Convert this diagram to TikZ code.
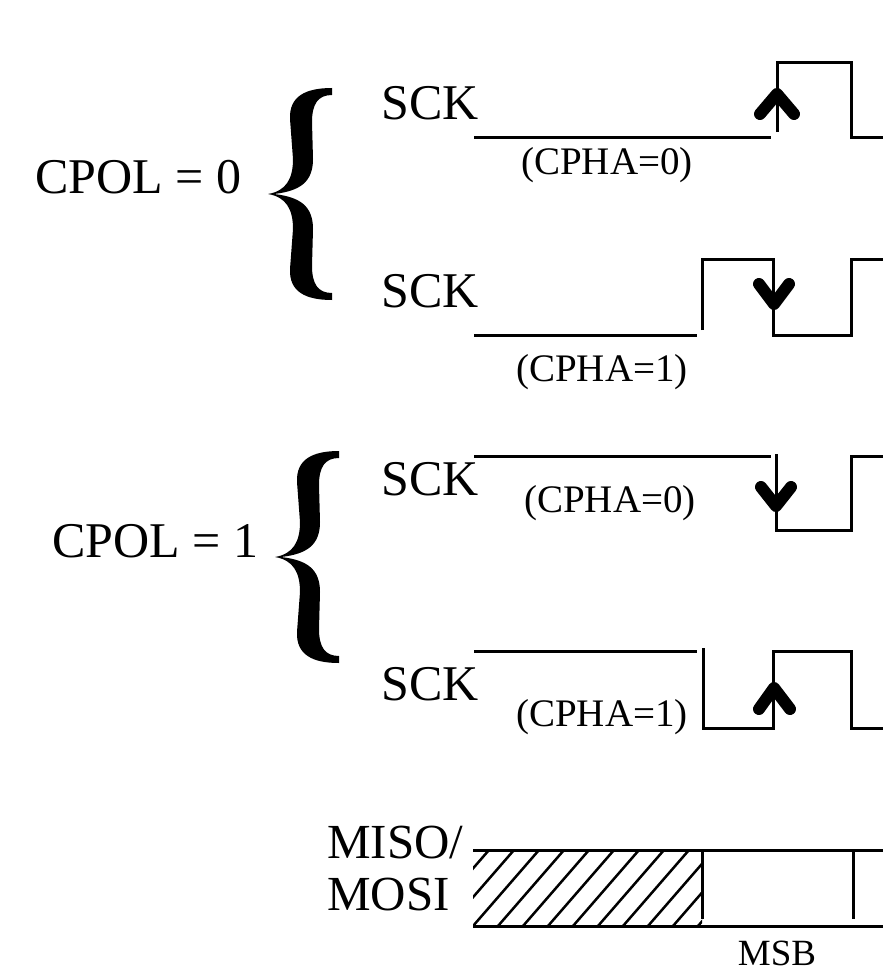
\documentclass[tikz,border=0pt]{standalone}
\usepackage{fontspec}
\setmainfont{Liberation Serif}
\begin{document}
\begin{tikzpicture}[x=1pt, y=-1pt,
		wave/.style={line width=3pt},
		edgemark/.style={line width=12pt, line cap=round, line join=round},
		hatchline/.style={line width=2.5pt},
		bigtext/.style={font=\fontsize{50}{50}\selectfont, inner sep=0pt, anchor=base west},
		smalltext/.style={font=\fontsize{39}{39}\selectfont, inner sep=0pt, anchor=base west},
		curly/.pic={
			\fill (0,0) .. controls (18,-3) and (25,-15) .. (25,-35) -- (22,-75)
			.. controls (21,-98) and (38,-106) .. (64,-106) -- (64,-99)
			.. controls (50,-99) and (44,-90) .. (44,-72) -- (45,-35)
			.. controls (45,-12) and (32,-3) .. (6,0)
			.. controls (32,3) and (45,12) .. (45,35) -- (44,72)
			.. controls (44,90) and (50,99) .. (64,99) -- (64,106)
			.. controls (38,106) and (21,98) .. (22,75) -- (25,35)
			.. controls (25,15) and (18,3) .. (0,0) -- cycle;
		}]
	% khung ảnh
	\useasboundingbox (0,0) rectangle (883,979);
	
	% 1. Nhãn CPOL và dấu ngoặc
	\node[bigtext] (cpolzero) at (35,193) {CPOL = 0};
	\node[bigtext] (cpolone) at (52,557) {CPOL = 1};
	\pic at (268,194) {curly};
	\pic at (275,557) {curly};
	
	% 2. Nhãn SCK và CPHA
	\node[bigtext] (sckA) at (381,120) {SCK};
	\node[smalltext] (cphaA) at (521,174) {(CPHA=0)};
	\node[bigtext] (sckB) at (381,307) {SCK};
	\node[smalltext] (cphaB) at (516,381) {(CPHA=1)};
	\node[bigtext] (sckC) at (381,495) {SCK};
	\node[smalltext] (cphaC) at (524,512) {(CPHA=0)};
	\node[bigtext] (sckD) at (381,700) {SCK};
	\node[smalltext] (cphaD) at (516,726) {(CPHA=1)};
	
	% 3. Dạng sóng SCK
	% CPOL=0, CPHA=0
	\draw[wave] (474,137) -- (771,137);
	\draw[wave] (777,132) -- (777,63) -- (851,63) -- (851,137) -- (883,137);
	\draw[edgemark] (760,114) -- (777,94) -- (794,114);
	% CPOL=0, CPHA=1
	\draw[wave] (474,335) -- (697,335);
	\draw[wave] (702,330) -- (702,259) -- (773,259) -- (773,335) -- (851,335) -- (851,259) -- (883,259);
	\draw[edgemark] (759,284) -- (774,304) -- (789,284);
	% CPOL=1, CPHA=0
	\draw[wave] (474,456) -- (771,456);
	\draw[wave] (776,454) -- (776,530) -- (851,530) -- (851,456) -- (883,456);
	\draw[edgemark] (761,487) -- (776,506) -- (791,487);
	% CPOL=1, CPHA=1
	\draw[wave] (474,651) -- (697,651);
	\draw[wave] (703,648) -- (703,728) -- (773,728) -- (773,651) -- (851,651) -- (851,728) -- (883,728);
	\draw[edgemark] (759,709) -- (774,688) -- (790,709);
	
	% 4. Đường dữ liệu MISO/MOSI
	\node[bigtext, font=\fontsize{49}{49}\selectfont] (miso) at (327,858) {MISO/};
	\node[bigtext, font=\fontsize{49}{49}\selectfont] (mosi) at (327,910) {MOSI};
	\draw[wave] (473,850) -- (883,850);
	\draw[wave] (473,926) -- (883,926);
	\draw[wave] (702,850) -- (702,919);
	\draw[wave] (853,850) -- (853,919);
	\begin{scope}
		\clip (473,850) rectangle (702,926);
		\foreach \k in {0,...,12}
		\draw[hatchline] ({473+25*\k-75},926) -- ++(66,-76);
	\end{scope}
	\node[smalltext, font=\fontsize{37}{37}\selectfont, anchor=base] (msb) at (777,965) {MSB};
	
\end{tikzpicture}
\end{document}
